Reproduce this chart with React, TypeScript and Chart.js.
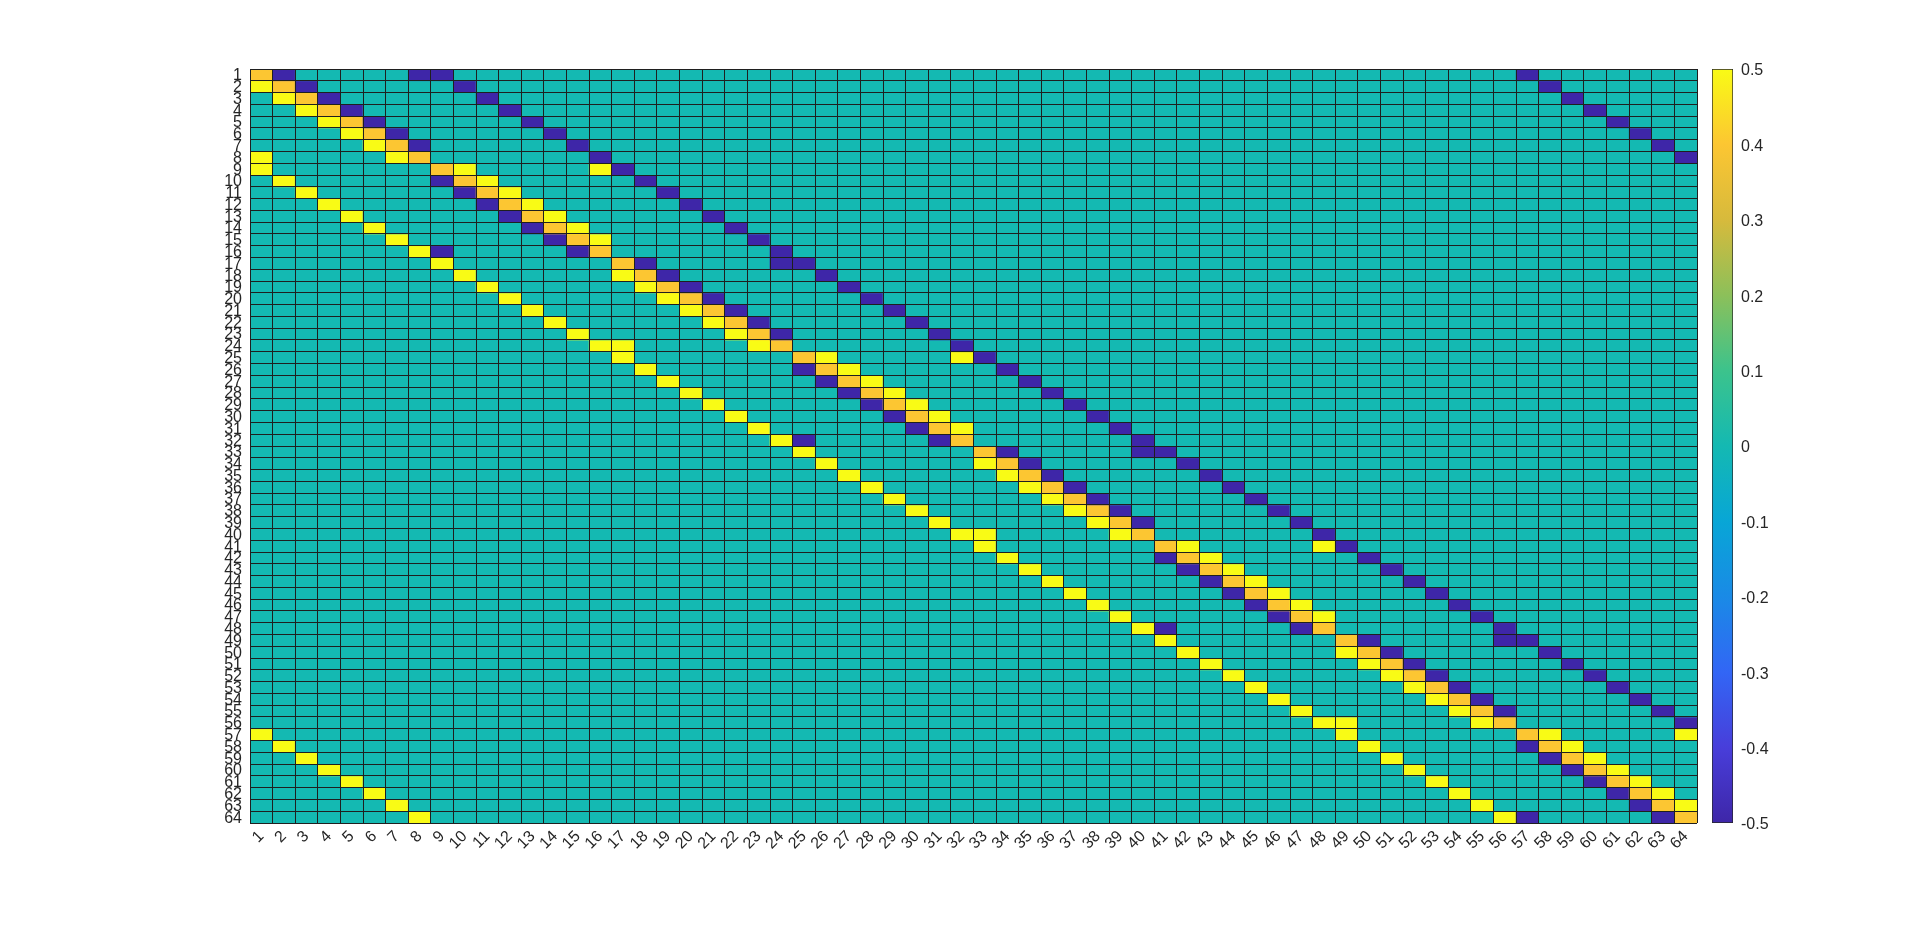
import { useEffect, useRef } from "react";
import { Chart, registerables } from "chart.js";

Chart.register(...registerables);

// ---------- data ----------
const rowLabels: string[] = [
  "1","2","3","4","5","6","7","8","9","10","11","12","13","14","15","16",
  "17","18","19","20","21","22","23","24","25","26","27","28","29","30","31","32",
  "33","34","35","36","37","38","39","40","41","42","43","44","45","46","47","48",
  "49","50","51","52","53","54","55","56","57","58","59","60","61","62","63","64",
];
const columnLabels: string[] = [...rowLabels];

// value of each letter used in cellRows (all other cells are 0)
const levelValues: Record<string, number> = { Y: 0.5, O: 0.4, B: -0.5 };

// non-zero cells of each row: <level><column>
const cellRows: string[] = [
  "O1 B2 B8 B9 B57",
  "Y1 O2 B3 B10 B58",
  "Y2 O3 B4 B11 B59",
  "Y3 O4 B5 B12 B60",
  "Y4 O5 B6 B13 B61",
  "Y5 O6 B7 B14 B62",
  "Y6 O7 B8 B15 B63",
  "Y1 Y7 O8 B16 B64",
  "Y1 O9 Y10 Y16 B17",
  "Y2 B9 O10 Y11 B18",
  "Y3 B10 O11 Y12 B19",
  "Y4 B11 O12 Y13 B20",
  "Y5 B12 O13 Y14 B21",
  "Y6 B13 O14 Y15 B22",
  "Y7 B14 O15 Y16 B23",
  "Y8 B9 B15 O16 B24",
  "Y9 O17 B18 B24 B25",
  "Y10 Y17 O18 B19 B26",
  "Y11 Y18 O19 B20 B27",
  "Y12 Y19 O20 B21 B28",
  "Y13 Y20 O21 B22 B29",
  "Y14 Y21 O22 B23 B30",
  "Y15 Y22 O23 B24 B31",
  "Y16 Y17 Y23 O24 B32",
  "Y17 O25 Y26 Y32 B33",
  "Y18 B25 O26 Y27 B34",
  "Y19 B26 O27 Y28 B35",
  "Y20 B27 O28 Y29 B36",
  "Y21 B28 O29 Y30 B37",
  "Y22 B29 O30 Y31 B38",
  "Y23 B30 O31 Y32 B39",
  "Y24 B25 B31 O32 B40",
  "Y25 O33 B34 B40 B41",
  "Y26 Y33 O34 B35 B42",
  "Y27 Y34 O35 B36 B43",
  "Y28 Y35 O36 B37 B44",
  "Y29 Y36 O37 B38 B45",
  "Y30 Y37 O38 B39 B46",
  "Y31 Y38 O39 B40 B47",
  "Y32 Y33 Y39 O40 B48",
  "Y33 O41 Y42 Y48 B49",
  "Y34 B41 O42 Y43 B50",
  "Y35 B42 O43 Y44 B51",
  "Y36 B43 O44 Y45 B52",
  "Y37 B44 O45 Y46 B53",
  "Y38 B45 O46 Y47 B54",
  "Y39 B46 O47 Y48 B55",
  "Y40 B41 B47 O48 B56",
  "Y41 O49 B50 B56 B57",
  "Y42 Y49 O50 B51 B58",
  "Y43 Y50 O51 B52 B59",
  "Y44 Y51 O52 B53 B60",
  "Y45 Y52 O53 B54 B61",
  "Y46 Y53 O54 B55 B62",
  "Y47 Y54 O55 B56 B63",
  "Y48 Y49 Y55 O56 B64",
  "Y1 Y49 O57 Y58 Y64",
  "Y2 Y50 B57 O58 Y59",
  "Y3 Y51 B58 O59 Y60",
  "Y4 Y52 B59 O60 Y61",
  "Y5 Y53 B60 O61 Y62",
  "Y6 Y54 B61 O62 Y63",
  "Y7 Y55 B62 O63 Y64",
  "Y8 Y56 B57 B63 O64",
];

const colorLimits: [number, number] = [-0.5, 0.5];
const colorbarStep = 0.1;

// ---------- style ----------
const FONT = "'Liberation Sans', Arial, Helvetica, sans-serif";
const TEXT = "#262626";
const GRID = "#1f1f1f";
const colormapStops: [number, [number, number, number]][] = [
  [0.0, [62, 38, 168]],
  [0.1, [72, 62, 218]],
  [0.2, [50, 102, 245]],
  [0.3, [26, 138, 230]],
  [0.4, [8, 166, 214]],
  [0.5, [20, 185, 178]],
  [0.6, [60, 195, 140]],
  [0.7, [140, 192, 90]],
  [0.8, [215, 186, 60]],
  [0.9, [252, 198, 50]],
  [1.0, [249, 251, 21]],
];

function colormap(t: number): string {
  const x = Math.min(1, Math.max(0, t));
  for (let i = 1; i < colormapStops.length; i++) {
    const [t1, c1] = colormapStops[i];
    const [t0, c0] = colormapStops[i - 1];
    if (x <= t1) {
      const f = (x - t0) / (t1 - t0);
      const c = c0.map((v, k) => Math.round(v + (c1[k] - v) * f));
      return `rgb(${c[0]},${c[1]},${c[2]})`;
    }
  }
  const c = colormapStops[colormapStops.length - 1][1];
  return `rgb(${c[0]},${c[1]},${c[2]})`;
}
function colorFor(v: number): string {
  return colormap((v - colorLimits[0]) / (colorLimits[1] - colorLimits[0]));
}

function buildMatrix(): number[][] {
  const m = rowLabels.map(() => columnLabels.map(() => 0));
  cellRows.forEach((row, r) => {
    row.split(" ").forEach((tok) => {
      const c = parseInt(tok.slice(1), 10) - 1;
      m[r][c] = levelValues[tok[0]];
    });
  });
  return m;
}

export default function App() {
  const mainRef = useRef<HTMLCanvasElement | null>(null);
  const barRef = useRef<HTMLCanvasElement | null>(null);

  useEffect(() => {
    const matrix = buildMatrix();
    const nRows = rowLabels.length;

    const datasets = matrix.map((vals, r) => ({
      label: rowLabels[r],
      data: vals.map(() => 1),
      backgroundColor: vals.map(colorFor),
      borderWidth: 0,
      barPercentage: 1,
      categoryPercentage: 1,
      stack: "cells",
      yAxisID: "y",
    }));

    const main = new Chart(mainRef.current as HTMLCanvasElement, {
      type: "bar",
      data: { labels: columnLabels, datasets: datasets as any },
      options: {
        responsive: false,
        animation: false,
        layout: { padding: { left: 0, top: 69, right: 23, bottom: 0 } },
        plugins: { legend: { display: false }, tooltip: { enabled: false } },
        scales: {
          x: {
            type: "category",
            stacked: true,
            grid: { display: true, offset: true, color: GRID, lineWidth: 1, drawTicks: false, z: 1 },
            border: { display: false },
            ticks: {
              autoSkip: false,
              minRotation: 45,
              maxRotation: 45,
              padding: 4,
              color: TEXT,
              font: { family: FONT, size: 16 },
            },
            afterFit: (s: any) => {
              s.height = 103;
            },
          },
          y: {
            type: "linear",
            stacked: true,
            reverse: true,
            min: 0,
            max: nRows,
            grid: { display: false, drawTicks: false },
            border: { display: false },
            afterBuildTicks: (s: any) => {
              s.ticks = rowLabels.map((_, i) => ({ value: i + 0.5 }));
            },
            ticks: {
              autoSkip: false,
              padding: 8,
              labelOffset: 1,
              color: TEXT,
              font: { family: FONT, size: 16 },
              callback: (_v: any, i: number) => rowLabels[i],
            },
            afterFit: (s: any) => {
              s.width = 250;
            },
          },
          yGrid: {
            type: "linear",
            position: "left",
            reverse: true,
            min: 0,
            max: nRows,
            grid: { display: true, color: GRID, lineWidth: 1, drawTicks: false, z: 1 },
            border: { display: false },
            afterBuildTicks: (s: any) => {
              s.ticks = [...rowLabels.map((_, i) => ({ value: i })), { value: nRows }];
            },
            ticks: { display: false, autoSkip: false },
            afterFit: (s: any) => {
              s.width = 0;
            },
          },
        },
      } as any,
    });

    const bar = new Chart(barRef.current as HTMLCanvasElement, {
      type: "bar",
      data: {
        labels: [""],
        datasets: [
          {
            data: [[colorLimits[0], colorLimits[1]]] as any,
            backgroundColor: (ctx: any) => {
              const ca = ctx.chart.chartArea;
              if (!ca) return "transparent";
              const g = ctx.chart.ctx.createLinearGradient(0, ca.bottom, 0, ca.top);
              colormapStops.forEach(([t]) => g.addColorStop(t, colormap(t)));
              return g;
            },
            borderColor: TEXT,
            borderWidth: 1,
            borderSkipped: false,
            barPercentage: 1,
            categoryPercentage: 1,
          },
        ],
      },
      options: {
        responsive: false,
        animation: false,
        layout: { padding: { left: 12, top: 69, right: 0, bottom: 103 } },
        plugins: { legend: { display: false }, tooltip: { enabled: false } },
        scales: {
          x: { display: false },
          y: {
            position: "right",
            min: colorLimits[0],
            max: colorLimits[1],
            grid: { display: false, drawTicks: false },
            border: { display: false },
            ticks: {
              stepSize: colorbarStep,
              padding: 8,
              labelOffset: 2,
              color: TEXT,
              font: { family: FONT, size: 16 },
              callback: (v: any) => {
                const n = Math.round(Number(v) * 10) / 10;
                return n === 0 ? "0" : String(n);
              },
            },
            afterFit: (s: any) => {
              s.width = 187;
            },
          },
        },
      } as any,
    });

    return () => {
      main.destroy();
      bar.destroy();
    };
  }, []);

  return (
    <div style={{ position: "fixed", left: 0, top: 0, width: 1920, height: 926, background: "#fff" }}>
      <canvas ref={mainRef} width={1720} height={926} style={{ position: "absolute", left: 0, top: 0 }} />
      <canvas ref={barRef} width={220} height={926} style={{ position: "absolute", left: 1700, top: 0 }} />
    </div>
  );
}
